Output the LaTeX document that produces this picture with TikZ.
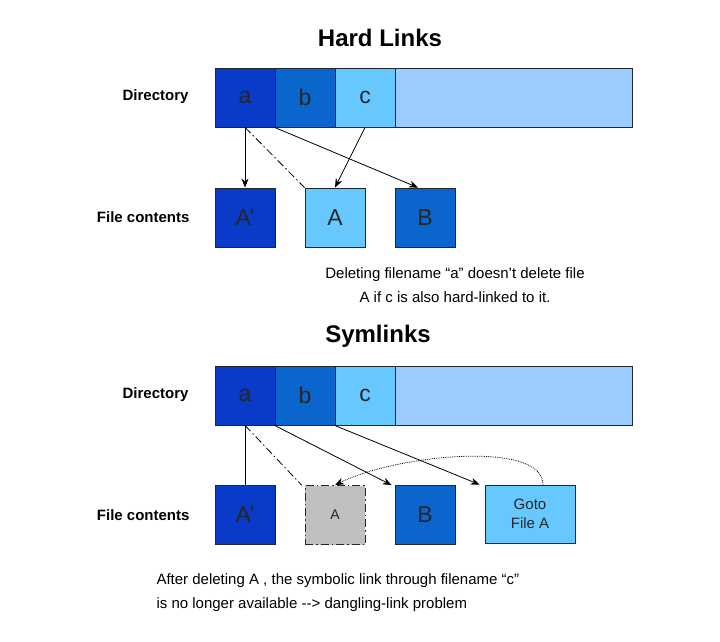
\documentclass[tikz,border=0pt]{standalone}
\usepackage{fontspec}
\setmainfont{Liberation Sans}
\usetikzlibrary{arrows.meta}
\definecolor{cA}{HTML}{0A3AC8}
\definecolor{cB}{HTML}{0A66CC}
\definecolor{cC}{HTML}{66C8FF}
\definecolor{cR}{HTML}{9CCCFF}
\definecolor{cG}{HTML}{C0C0C0}
\begin{document}
\begin{tikzpicture}[x=1pt,y=-1pt,
  cell/.style={draw=black!85, thick, minimum width=60pt, minimum height=59pt, inner sep=0pt, font=\fontsize{23}{25}\selectfont, text=black!85},
  lbl/.style={font=\bfseries\fontsize{15}{17}\selectfont, anchor=east},
  ttl/.style={font=\bfseries\fontsize{24}{27}\selectfont},
  note/.style={font=\fontsize{15}{24}\selectfont, align=left},
  dd/.style={thick, dash pattern=on 8pt off 3pt on 1.5pt off 3pt},
  arrow/.style={-{Stealth[length=9pt,width=7pt]}, thick}]
\useasboundingbox (0,0) rectangle (720,642);

% Hard links
\node[ttl] (t1) at (380,38) {Hard Links};
\node[lbl] (d1) at (192,97) {Directory};
\node[cell, fill=cA] (a1) at (245,97.5) {a};
\node[cell, fill=cB] (b1) at (305,97.5) {b};
\node[cell, fill=cC] (c1) at (365,97.5) {c};
\node[cell, fill=cR, minimum width=237pt] (r1) at (513.5,97.5) {};
\node[lbl] (f1) at (193,217) {File contents};
\node[cell, fill=cA] (Ap1) at (245,217.5) {A'};
\node[cell, fill=cC] (A1) at (335,217.5) {A};
\node[cell, fill=cB] (B1) at (425,217.5) {B};
\node[note, align=center] (n1) at (455,285) {Deleting filename “a” doesn’t delete file\\A if c is also hard-linked to it.};
\draw[arrow] (a1.south) -- (Ap1.north);
\draw[dd] (a1.south) -- (A1.north west);
\draw[arrow] (b1.south west) -- ([xshift=-7pt]B1.north);
\draw[arrow] (c1.south) -- (A1.north);

% Symlinks
\node[ttl] (t2) at (378,336) {Symlinks};
\node[lbl] (d2) at (192,395) {Directory};
\node[cell, fill=cA] (a2) at (245,395.5) {a};
\node[cell, fill=cB] (b2) at (305,395.5) {b};
\node[cell, fill=cC] (c2) at (365,395.5) {c};
\node[cell, fill=cR, minimum width=237pt] (r2) at (513.5,395.5) {};
\node[lbl] (f2) at (193,515) {File contents};
\node[cell, fill=cA] (Ap2) at (245,515) {A'};
\node[cell, fill=cG, dd, font=\fontsize{14}{16}\selectfont] (A2) at (335,515) {A};
\node[cell, fill=cB] (B2) at (425,515) {B};
\node[cell, fill=cC, minimum width=90pt, minimum height=58pt, align=center, font=\fontsize{15}{19}\selectfont] (G2) at (530,514) {Goto\\File A};
\node[note, anchor=west] (n2) at (153,593) {After deleting A , the symbolic link through filename “c”\\is no longer available -{}-> dangling-link problem};
\draw[thick] (a2.south) -- (Ap2.north);
\draw[dd] (a2.south) -- ([xshift=-3pt]A2.north west);
\draw[arrow] (b2.south west) -- ([xshift=-3pt]B2.north west);
\draw[arrow] (c2.south west) -- ([xshift=-5pt]G2.north west);
\draw[arrow, thick, densely dotted] ([xshift=13pt]G2.north) .. controls +(0,-45) and +(60,-30) .. (A2.north);
\end{tikzpicture}
\end{document}
